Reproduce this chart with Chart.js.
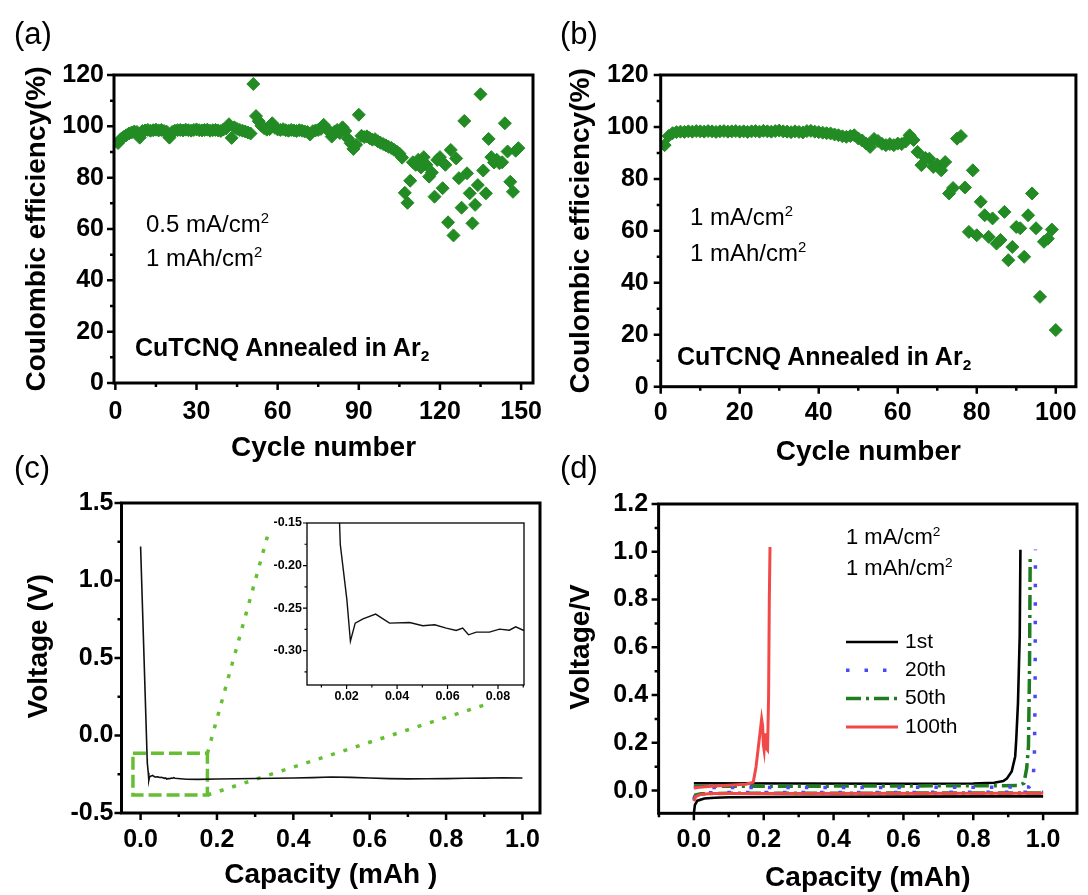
<!DOCTYPE html>
<html>
<head>
<meta charset="utf-8">
<title>CuTCNQ annealed in Ar2 - cycling</title>
<script src="https://cdn.jsdelivr.net/npm/chart.js@4.4.1/dist/chart.umd.min.js"></script>
<style>
  body { margin: 0; background: #fff; }
  #fig { position: relative; width: 1088px; height: 895px; overflow: hidden;
         font-family: 'Liberation Sans', Arial, sans-serif; color: #000; }
  #fig canvas { position: absolute; left: 0; top: 0; }
  .t { position: absolute; line-height: 1; white-space: nowrap; }
  .t sup, .t sub { font-size: 0.62em; position: relative; vertical-align: baseline; }
  .t sup { top: -0.62em; }
  .t sub { top: 0.3em; }
  .panel { font-size: 31px; }
  .note { font-size: 24px; }
  .note-d { font-size: 22px; }
  .name { font-size: 25px; font-weight: bold; }
</style>
</head>
<body>
<div id="fig">
  <canvas id="chartA" width="1088" height="895"></canvas>
  <canvas id="chartB" width="1088" height="895"></canvas>
  <canvas id="chartC" width="1088" height="895"></canvas>
  <canvas id="chartInset" width="1088" height="895"></canvas>
  <canvas id="chartD" width="1088" height="895"></canvas>

  <div class="t panel" style="left:14px;top:18px">(a)</div>
  <div class="t panel" style="left:560px;top:18px">(b)</div>
  <div class="t panel" style="left:14px;top:452px">(c)</div>
  <div class="t panel" style="left:560px;top:452px">(d)</div>

  <div class="t note" style="left:146px;top:212px">0.5 mA/cm<sup>2</sup></div>
  <div class="t note" style="left:146px;top:246px">1 mAh/cm<sup>2</sup></div>
  <div class="t name" style="left:135px;top:335px">CuTCNQ Annealed in Ar<sub>2</sub></div>

  <div class="t note" style="left:690px;top:205px">1 mA/cm<sup>2</sup></div>
  <div class="t note" style="left:690px;top:241px">1 mAh/cm<sup>2</sup></div>
  <div class="t name" style="left:677px;top:344px">CuTCNQ Annealed in Ar<sub>2</sub></div>

  <div class="t note-d" style="left:846px;top:526px">1 mA/cm<sup>2</sup></div>
  <div class="t note-d" style="left:846px;top:557px">1 mAh/cm<sup>2</sup></div>
</div>

<script>
const W = 1088, H = 895;
const FONT = "'Liberation Sans', Arial, sans-serif";
const GREEN = '#238b23';
const GUIDE = '#66bf33';

// (a) 0.5 mA/cm2 - coulombic efficiency (%) for cycles 1..149
const ceA = [
  93.5, 95.0, 95.8, 96.5, 97.2, 97.6, 98.0, 97.8, 95.6, 98.2,
  98.4, 98.6, 98.3, 98.5, 98.7, 98.4, 98.6, 98.2, 97.9, 95.6,
  97.8, 98.3, 98.5, 98.6, 98.4, 98.7, 98.5, 98.3, 98.6, 98.8,
  98.5, 98.4, 98.6, 98.7, 98.3, 98.5, 98.6, 98.4, 98.2, 98.8,
  99.2, 100.8, 95.5, 99.6, 99.0, 98.6, 98.3, 98.0, 97.6, 97.2,
  116.5, 104.0, 102.0, 100.2, 99.3, 98.7, 98.9, 101.2, 99.4, 98.8,
  98.6, 98.9, 98.5, 98.3, 98.6, 98.4, 98.2, 98.5, 98.3, 98.0,
  97.8, 96.8, 98.1, 98.4, 98.6, 99.0, 100.6, 99.1, 98.2, 96.0,
  97.9, 98.6, 97.4, 99.6, 98.2, 95.2, 93.4, 91.2, 92.8, 104.5,
  96.3, 95.8, 96.1, 95.4, 94.8, 95.0, 94.2, 93.6, 93.1, 92.6,
  92.0, 91.6, 90.9, 90.2, 89.4, 87.8, 74.1, 70.2, 78.8, 86.0,
  85.0, 87.0, 84.0, 88.0, 85.0, 80.4, 82.0, 72.6, 86.9, 88.0,
  75.9, 85.0, 62.6, 90.8, 57.5, 87.5, 79.8, 68.3, 102.1, 81.7,
  73.9, 62.2, 69.4, 77.1, 112.5, 82.8, 73.9, 95.1, 88.0, 85.9,
  87.0, 85.6, 86.0, 101.2, 90.2, 78.4, 74.5, 90.5, 91.5
];
const cyclesA = ceA.map((_, i) => i + 1);

// (b) 1 mA/cm2 - coulombic efficiency (%) for cycles 1..100
const ceB = [
  93.0, 96.5, 97.6, 98.0, 98.2, 98.1, 98.3, 98.2, 98.4, 98.3,
  98.2, 98.4, 98.3, 98.1, 98.3, 98.4, 98.2, 98.3, 98.4, 98.2,
  98.3, 98.1, 98.3, 98.4, 98.2, 98.5, 98.3, 98.2, 98.4, 98.6,
  98.3, 98.2, 98.0, 98.3, 98.1, 97.9, 98.4, 98.5, 98.2, 98.0,
  97.8, 97.6, 97.5, 97.1, 96.8, 96.4, 96.2, 96.5, 96.8, 95.6,
  94.8, 93.6, 92.3, 95.4, 94.6, 93.5, 93.0, 93.4, 93.0, 93.6,
  93.4, 94.4, 96.8, 95.0, 90.4, 85.3, 88.0, 87.8, 84.6, 85.5,
  83.3, 86.5, 74.4, 76.5, 95.5, 96.5, 76.7, 59.6, 83.3, 58.3,
  71.2, 66.0, 57.7, 64.8, 55.1, 56.5, 67.3, 48.7, 53.8, 61.5,
  61.0, 50.0, 66.0, 74.4, 61.0, 34.6, 55.8, 57.0, 60.5, 21.8
];
const cyclesB = ceB.map((_, i) => i + 1);

// (c) first discharge voltage profile (mAh, V)
const capC = [0, 0.0172, 0.0175, 0.0201, 0.0215, 0.0234, 0.0265, 0.0315, 0.037, 0.045,
  0.0502, 0.0549, 0.0595, 0.0634, 0.066, 0.0683, 0.0714, 0.0766, 0.0806, 0.0845,
  0.087, 0.09, 0.12, 0.15, 0.2, 0.25, 0.3, 0.35, 0.4, 0.45,
  0.5, 0.55, 0.6, 0.65, 0.7, 0.75, 0.8, 0.85, 0.9, 0.95, 1.0];
const voltC = [1.22, -0.15, -0.1755, -0.240, -0.289, -0.2677, -0.2626, -0.257, -0.2677, -0.267,
  -0.2708, -0.2696, -0.2735, -0.2763, -0.2735, -0.2814, -0.2783, -0.2783, -0.2747, -0.276,
  -0.272, -0.276, -0.282, -0.283, -0.281, -0.279, -0.277, -0.276, -0.274, -0.272,
  -0.268, -0.270, -0.274, -0.278, -0.280, -0.279, -0.278, -0.276, -0.275, -0.273, -0.274];

// (c) zoom box and the two guide lines leading to the inset
const boxCap = [-0.02, 0.175, 0.175, -0.02, -0.02];
const boxVolt = [-0.115, -0.115, -0.384, -0.384, -0.115];
const guideCap = [0.175, 0.332, null, 0.175, 0.914];
const guideVolt = [-0.115, 1.283, null, -0.384, 0.208];

// (d) discharge branch, gap, charge branch for each cycle
const capD1 = [0, 0.003, 0.01, 0.03, 0.06, 0.1, 0.3, 0.6, 0.9, 1.0, null,
  0, 0.3, 0.6, 0.8, 0.86, 0.886, 0.896, 0.91, 0.92, 0.923, 0.928, 0.933, 0.935];
const voltD1 = [-0.095, -0.06, -0.042, -0.033, -0.03, -0.028, -0.026, -0.025, -0.024, -0.024, null,
  0.031, 0.030, 0.029, 0.030, 0.033, 0.04, 0.05, 0.08, 0.143, 0.213, 0.367, 0.647, 1.008];
const capD20 = [0, 0.005, 0.02, 0.1, 1.0, null, 0, 0.5, 0.96, 0.968, 0.972, 0.975, 0.977, 0.978];
const voltD20 = [-0.035, -0.015, -0.01, -0.008, -0.007, null, 0.013, 0.013, 0.015, 0.025, 0.06, 0.15, 0.4, 1.01];
const capD50 = [0, 0.005, 0.02, 0.1, 1.0, null, 0, 0.5, 0.93, 0.945, 0.953, 0.958, 0.961, 0.963];
const voltD50 = [-0.04, -0.018, -0.013, -0.011, -0.01, null, 0.018, 0.019, 0.021, 0.031, 0.094, 0.185, 0.5, 0.98];
const capD100 = [0, 0.005, 0.02, 0.05, 1.0, null, 0, 0.05, 0.1, 0.15, 0.17, 0.178, 0.186, 0.194,
  0.197, 0.199, 0.201, 0.204, 0.206, 0.211, 0.214, 0.216, 0.218];
const voltD100 = [-0.045, -0.025, -0.016, -0.012, -0.011, null, 0.012, 0.018, 0.022, 0.027, 0.035, 0.1, 0.2, 0.3,
  0.27, 0.19, 0.17, 0.24, 0.18, 0.17, 0.4, 0.8, 1.02];

// tick labels
const ticksCycleA = [0, 30, 60, 90, 120, 150];
const ticksCycleB = [0, 20, 40, 60, 80, 100];
const ticksCE = [0, 20, 40, 60, 80, 100, 120];
const ticksCap = [0, 0.2, 0.4, 0.6, 0.8, 1.0];
const ticksVoltC = [-0.5, 0, 0.5, 1.0, 1.5];
const ticksVoltD = [0, 0.2, 0.4, 0.6, 0.8, 1.0, 1.2];
const ticksCapInset = [0.02, 0.04, 0.06, 0.08];
const ticksVoltInset = [-0.30, -0.25, -0.20, -0.15];

const pts = (xs, ys) => xs.map((v, i) => ({ x: v, y: ys[i] }));

// box frame plus outward major/minor ticks on bottom and left
const frame = {
  id: 'frame',
  beforeDraw(chart, _args, o) {
    if (!o.fill) return;
    const { ctx, chartArea: a } = chart;
    ctx.save();
    ctx.fillStyle = o.fill;
    ctx.fillRect(a.left, a.top, a.right - a.left, a.bottom - a.top);
    ctx.restore();
  },
  afterDraw(chart, _args, o) {
    const { ctx, chartArea: a, scales } = chart;
    ctx.save();
    ctx.strokeStyle = '#000';
    ctx.lineWidth = o.width;
    ctx.strokeRect(a.left, a.top, a.right - a.left, a.bottom - a.top);
    ctx.lineWidth = o.tickWidth;
    ctx.beginPath();
    for (const sc of [scales.x, scales.y]) {
      const vals = sc.ticks.map(t => t.value);
      const step = vals[1] - vals[0];
      const marks = vals.map(v => [v, o.major]);
      for (let v = vals[0] - step / 2; v <= sc.max + 1e-9; v += step) {
        if (v >= sc.min - 1e-9) marks.push([v, o.minor]);
      }
      for (const [v, len] of marks) {
        const p = sc.getPixelForValue(v);
        if (sc.isHorizontal()) { ctx.moveTo(p, a.bottom); ctx.lineTo(p, a.bottom + len); }
        else { ctx.moveTo(a.left, p); ctx.lineTo(a.left - len, p); }
      }
    }
    ctx.stroke();
    ctx.restore();
  }
};

// line legend drawn inside the plot of (d)
const lineKey = {
  id: 'lineKey',
  afterDraw(chart, _args, o) {
    if (!o || !o.x) return;
    const { ctx } = chart;
    chart.data.datasets.forEach((ds, i) => {
      const y = o.y + i * o.gap;
      ctx.save();
      ctx.strokeStyle = ds.borderColor;
      ctx.lineWidth = ds.borderWidth;
      ctx.setLineDash(ds.borderDash || []);
      ctx.beginPath();
      ctx.moveTo(o.x, y);
      ctx.lineTo(o.x + o.len, y);
      ctx.stroke();
      ctx.fillStyle = '#000';
      ctx.font = o.font;
      ctx.textBaseline = 'middle';
      ctx.fillText(ds.label, o.x + o.len + 7, y);
      ctx.restore();
    });
  }
};

function axis(min, max, ticks, fmt, o) {
  return {
    type: 'linear', min, max,
    afterBuildTicks: s => { s.ticks = ticks.map(v => ({ value: v })); },
    grid: { display: false, drawTicks: false },
    border: { display: false },
    ticks: {
      autoSkip: false, maxRotation: 0, padding: o.pad, color: '#000',
      font: { family: FONT, size: o.size || 25, weight: 'bold' }, callback: fmt
    },
    title: o.title
      ? { display: true, text: o.title, color: '#000', padding: o.tpad,
          font: { family: FONT, size: 28, weight: 'bold' } }
      : { display: false }
  };
}

function plot(id, box, area, x, y, datasets, plugins) {
  x.afterFit = s => { s.height = box.b - area.b; };
  y.afterFit = s => { s.width = area.l - box.l; };
  return new Chart(document.getElementById(id), {
    type: 'scatter',
    data: { datasets },
    options: {
      responsive: false, animation: false, events: [],
      layout: { padding: { left: box.l, top: area.t, right: W - area.r, bottom: H - box.b } },
      scales: { x, y },
      plugins: Object.assign({ legend: { display: false }, tooltip: { enabled: false } }, plugins)
    },
    plugins: [frame, lineKey]
  });
}

const bigFrame = { width: 3, tickWidth: 2.5, major: 7, minor: 4 };
const diamonds = { pointStyle: 'rectRot', pointRadius: 6.5, borderWidth: 1,
  backgroundColor: GREEN, borderColor: GREEN };
const asInt = v => String(v);
const oneDec = v => v.toFixed(1);
const twoDec = v => v.toFixed(2);

// (a)
plot('chartA', { l: 0, b: 470 }, { l: 114, t: 75, r: 533, b: 383 },
  axis(-0.5, 154.4, ticksCycleA, asInt, { pad: 14, title: 'Cycle number', tpad: { bottom: 5 } }),
  axis(0, 120, ticksCE, asInt, { pad: 10, title: 'Coulombic efficiency(%)', tpad: { top: 20 } }),
  [Object.assign({ data: pts(cyclesA, ceA) }, diamonds)],
  { frame: bigFrame });

// (b)
plot('chartB', { l: 544, b: 470 }, { l: 660.7, t: 75, r: 1083, b: 386.7 },
  axis(0, 105.1, ticksCycleB, asInt, { pad: 11, title: 'Cycle number', tpad: { bottom: 1 } }),
  axis(0, 120, ticksCE, asInt, { pad: 12, title: 'Coulombic efficiency(%)', tpad: { top: 20 } }),
  [Object.assign({ data: pts(cyclesB, ceB) }, diamonds)],
  { frame: bigFrame });

// (c)
plot('chartC', { l: 0, b: 895 }, { l: 121.5, t: 503, r: 540, b: 813 },
  axis(-0.05, 1.046, ticksCap, oneDec, { pad: 12, title: 'Capacity (mAh )', tpad: { bottom: 3 } }),
  axis(-0.5, 1.5, ticksVoltC, oneDec, { pad: 8, title: '   Voltage (V)', tpad: { top: 22 } }),
  [
    { data: pts(capC, voltC), showLine: true, pointRadius: 0, borderColor: '#111', borderWidth: 1.6 },
    { data: pts(boxCap, boxVolt), showLine: true, pointRadius: 0, borderColor: GUIDE,
      borderWidth: 3.5, borderDash: [13, 5] },
    { data: pts(guideCap, guideVolt), showLine: true, pointRadius: 0, borderColor: GUIDE,
      borderWidth: 3.5, borderDash: [4, 9] }
  ],
  { frame: bigFrame });

// (c) inset: zoom of the nucleation dip
plot('chartInset', { l: 240, b: 720 }, { l: 307, t: 523, r: 524, b: 685 },
  axis(0.0043, 0.0903, ticksCapInset, twoDec, { pad: 4, size: 12.5 }),
  axis(-0.3404, -0.15, ticksVoltInset, twoDec, { pad: 5, size: 12.5 }),
  [{ data: pts(capC, voltC), showLine: true, pointRadius: 0, borderColor: '#111', borderWidth: 1.4 }],
  { frame: { width: 1.3, tickWidth: 1.2, major: 4, minor: 2.5, fill: '#fff' } });

// (d)
plot('chartD', { l: 544, b: 895 }, { l: 658.6, t: 504, r: 1077, b: 813.3 },
  axis(-0.101, 1.097, ticksCap, oneDec, { pad: 11.5, title: 'Capacity (mAh)', tpad: { bottom: 0 } }),
  axis(-0.095, 1.2, ticksVoltD, oneDec, { pad: 10.5, title: '   Voltage/V', tpad: { top: 20 } }),
  [
    { label: '1st', data: pts(capD1, voltD1), showLine: true, pointRadius: 0,
      borderColor: '#000', borderWidth: 2.6, order: 3 },
    { label: '20th', data: pts(capD20, voltD20), showLine: true, pointRadius: 0,
      borderColor: '#4a4af5', borderWidth: 3.5, borderDash: [3.5, 15], order: 1 },
    { label: '50th', data: pts(capD50, voltD50), showLine: true, pointRadius: 0,
      borderColor: '#1f7d1f', borderWidth: 3.5, borderDash: [15, 5, 3, 5], order: 2 },
    { label: '100th', data: pts(capD100, voltD100), showLine: true, pointRadius: 0,
      borderColor: '#f24848', borderWidth: 3, order: 0 }
  ],
  { frame: bigFrame,
    lineKey: { x: 846, y: 642, gap: 28.3, len: 52, font: '21px ' + FONT } });
</script>
</body>
</html>
